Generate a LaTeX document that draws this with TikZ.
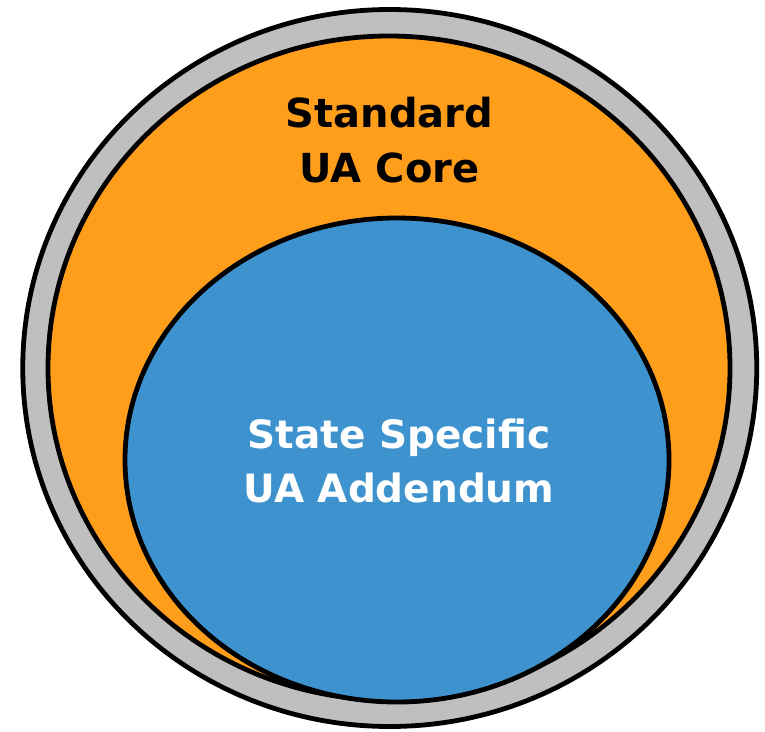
\documentclass[tikz,border=0pt]{standalone}
\usepackage{fontspec}
\setmainfont{DejaVu Sans}
\definecolor{ringgray}{RGB}{191,191,191}
\definecolor{coreorange}{RGB}{255,158,27}
\definecolor{addblue}{RGB}{62,147,207}
\begin{document}
\begin{tikzpicture}[x=1pt,y=-1pt,
    rim/.style={draw=black,line width=4.8pt},
    label/.style={anchor=base,align=center,inner sep=0pt,font=\bfseries}]
      \useasboundingbox (0,0) rectangle (765,731);
      \draw[rim,fill=ringgray] (389.75,368) ellipse [x radius=367,y radius=358.5];
      \draw[rim,fill=coreorange] (389,368) ellipse [x radius=341,y radius=332];
      \draw[rim,fill=addblue] (397,460) ellipse [x radius=272,y radius=242];
      \node[label,font=\bfseries\fontsize{40}{55}\selectfont] (core) at (389.5,182)
        {Standard\\UA Core};
      \node[label,text=white,font=\bfseries\fontsize{39}{54}\selectfont] (addendum) at (399,502)
        {State Specific\\UA Addendum};
    \end{tikzpicture}
\end{document}
